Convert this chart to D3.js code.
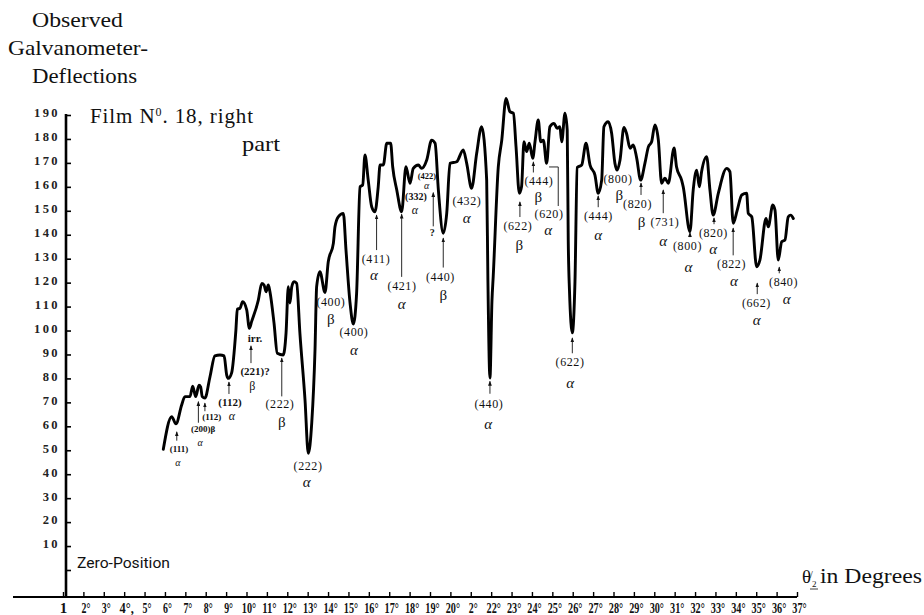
<!DOCTYPE html>
<html><head><meta charset="utf-8">
<script src="https://cdn.jsdelivr.net/npm/d3@7"></script>
<style>body{margin:0;background:#fff}svg{display:block}</style>
</head><body>
<svg id="chart" width="924" height="615"></svg>
<script>
// ---- data (θ/2 in degrees, galvanometer deflection) ----
const curveDeg = [5.92,6.33,6.54,6.82,6.98,7.23,7.36,7.51,7.67,7.75,
7.83,7.96,8.21,8.45,8.70,8.90,9.03,9.11,9.27,9.48,
9.55,9.68,9.81,10.01,10.14,10.25,10.58,10.75,10.86,10.96,
11.07,11.15,11.35,11.51,11.80,11.94,12.05,12.13,12.22,12.33,
12.46,12.62,12.87,13.03,13.20,13.36,13.44,13.60,13.85,14.01,
14.26,14.34,14.50,14.75,14.88,15.08,15.24,15.40,15.57,15.70,
15.81,15.97,16.14,16.30,16.46,16.55,16.71,16.88,17.07,17.17,
17.37,17.61,17.82,18.02,18.18,18.43,18.59,18.84,19.08,19.25,
19.41,19.65,19.82,19.98,20.31,20.63,20.80,21.04,21.29,21.53,
21.78,21.84,21.94,22.04,22.10,22.35,22.52,22.73,22.92,23.09,
23.22,23.38,23.49,23.61,23.74,23.87,24.04,24.15,24.31,24.43,
24.56,24.72,24.88,25.08,25.24,25.37,25.46,25.62,25.73,25.78,
25.84,25.98,26.11,26.22,26.44,26.65,26.85,27.09,27.25,27.42,
27.53,27.74,27.91,28.07,28.18,28.32,28.51,28.64,28.81,28.97,
29.14,29.33,29.54,29.71,29.87,30.03,30.20,30.36,30.52,30.69,
30.97,31.09,31.34,31.42,31.75,31.91,32.08,32.21,32.32,32.57,
32.73,32.89,33.14,33.55,33.71,33.87,34.07,34.29,34.53,34.61,
34.78,35.02,35.18,35.48,35.59,35.81,35.92,36.08,36.25,36.41,
36.57,36.69,36.82];
const curveVal = [50.4,64.0,61.0,68.9,72.4,72.4,76.8,72.4,77.2,76.5,
72.4,71.8,80.7,89.4,89.8,89.4,81.4,80.0,82.3,100.2,
108.9,109.3,112.0,108.6,100.9,103.7,112.7,119.7,119.0,116.2,
119.0,116.2,103.1,90.5,89.8,99.0,118.3,111.5,118.3,120.4,
119.7,98.8,71.0,48.7,61.4,91.9,118.3,124.6,115.9,128.7,
136.4,143.3,147.5,148.9,133.6,111.4,102.7,115.5,160.0,160.8,
173.3,162.8,151.7,149.6,160.0,169.1,169.1,178.2,178.2,168.4,
158.7,149.6,168.4,161.5,167.7,169.1,167.7,171.2,179.5,178.2,
158.7,140.6,148.9,169.8,170.5,175.4,169.8,159.4,174.0,185.1,
162.8,121.1,80.2,112.7,122.5,168.4,179.5,196.9,191.4,190.7,
176.7,157.3,160.0,178.8,174.7,178.2,171.9,178.8,187.9,178.8,
179.5,169.8,185.1,186.5,184.4,185.1,178.8,190.7,183.7,137.8,
116.9,99.0,120.3,168.1,169.1,178.2,169.1,164.9,157.3,162.8,
185.1,187.2,182.3,169.8,167.0,171.2,184.8,182.3,176.1,177.5,
171.9,162.8,169.8,176.7,178.8,185.8,179.5,161.5,163.6,161.5,
176.2,168.4,162.8,160.0,141.3,158.7,167.0,160.0,166.3,172.6,
158.7,148.2,157.3,167.7,166.3,144.8,150.3,156.6,157.3,148.9,
147.5,126.6,129.4,146.8,143.3,152.4,150.3,129.4,137.1,137.8,
147.5,148.2,146.8];

const yTicks = [0,10,20,30,40,50,60,70,80,90,100,110,120,130,140,150,160,170,180,190];
const xTicks = d3.range(1, 38);
const xTickLabels = ["1","2°","3°","4°,","5°","6°","7°","8°","9°","10°","11°","12°","13°","14°","15°","16°","17°","18°","19°","20°","2°","22°","23°","24°","25°","26°","27°","28°","29°","30°","31°","32°","33°","34°","35°","36°","37°"];

// annotations: label (t) at (x,y), greek letter (g) at (gx,gy), arrow at ax from a0 up to a1 (data units)
const annotations = [
 {t:"(111)", g:"α", x:6.69, y:50.6, gx:6.64, gy:45.0, ax:6.58, a0:54.0, a1:57.7, s:9},
 {t:"(200)β", g:"α", x:7.87, y:59.0, gx:7.72, gy:53.2, ax:7.64, a0:61.5, a1:70.3, s:9},
 {t:"(112)", g:"", x:8.30, y:63.8, ax:7.96, a0:66.3, a1:69.7, s:9},
 {t:"(112)", g:"α", x:9.19, y:70.3, gx:9.29, gy:64.4, ax:9.14, a0:73.5, a1:78.5, s:11},
 {t:"irr.", g:"", x:10.42, y:96.9, ax:10.22, a0:86.4, a1:93.6, s:11},
 {t:"(221)?", g:"β", x:10.42, y:83.0, gx:10.28, gy:76.8, s:11},
 {t:"(222)", g:"β", x:11.64, y:69.3, gx:11.73, gy:62.0, ax:11.73, a0:72.5, a1:88.5, s:12},
 {t:"(222)", g:"α", x:13.02, y:43.4, gx:12.95, gy:36.8, s:12},
 {t:"(400)", g:"β", x:14.14, y:111.9, gx:14.14, gy:105.0, s:12},
 {t:"(400)", g:"α", x:15.27, y:99.3, gx:15.27, gy:91.8, s:12},
 {t:"(411)", g:"α", x:16.35, y:129.8, gx:16.25, gy:123.2, ax:16.38, a0:133.6, a1:148.2, s:12},
 {t:"(421)", g:"α", x:17.63, y:118.6, gx:17.61, gy:111.3, ax:17.61, a0:122.4, a1:148.6, s:12},
 {t:"(332)", g:"α", x:18.31, y:155.9, gx:18.26, gy:150.6, s:10},
 {t:"(422)", g:"α", x:18.85, y:164.6, gx:18.84, gy:160.5, s:8.5},
 {t:"?", g:"", x:19.11, y:141.1, ax:19.16, a0:143.5, a1:157.6, s:10},
 {t:"(440)", g:"β", x:19.51, y:122.3, gx:19.65, gy:115.1, ax:19.65, a0:126.3, a1:138.6, s:12},
 {t:"(432)", g:"α", x:20.81, y:154.1, gx:20.80, gy:147.2, s:12},
 {t:"(440)", g:"α", x:21.89, y:69.3, gx:21.86, gy:61.2, ax:21.94, a0:73.6, a1:78.8, s:12},
 {t:"(622)", g:"β", x:23.31, y:143.6, gx:23.38, gy:135.9, ax:23.41, a0:147.4, a1:153.7, s:12},
 {t:"(444)", g:"β", x:24.34, y:162.4, gx:24.31, gy:155.8, ax:24.07, a0:166.0, a1:170.4, s:12},
 {t:"(620)", g:"α", x:24.84, y:148.6, gx:24.80, gy:142.0, s:12},
 {t:"(444)", g:"α", x:27.26, y:147.8, gx:27.25, gy:140.0, ax:27.25, a0:151.5, a1:156.2, s:12},
 {t:"(800)", g:"β", x:28.22, y:163.2, gx:28.28, gy:156.6, s:12},
 {t:"(820)", g:"β", x:29.18, y:152.8, gx:29.38, gy:145.4, ax:29.35, a0:156.6, a1:161.6, s:12},
 {t:"(731)", g:"α", x:30.52, y:145.3, gx:30.44, gy:137.6, ax:30.44, a0:149.0, a1:158.7, s:12},
 {t:"(800)", g:"α", x:31.63, y:135.3, gx:31.67, gy:126.8, ax:31.75, a0:139.0, a1:140.9, s:12},
 {t:"(820)", g:"α", x:32.90, y:140.7, gx:32.89, gy:134.0, ax:32.93, a0:144.4, a1:147.0, s:12},
 {t:"(822)", g:"α", x:33.79, y:127.7, gx:33.91, gy:120.8, ax:33.87, a0:131.4, a1:142.8, s:12},
 {t:"(662)", g:"α", x:35.01, y:111.5, gx:35.02, gy:104.6, ax:35.05, a0:115.2, a1:119.8, s:12},
 {t:"(840)", g:"α", x:36.34, y:120.2, gx:36.49, gy:113.4, ax:36.13, a0:123.9, a1:126.5, s:12},
 {t:"(622)", g:"α", x:25.87, y:86.8, gx:25.87, gy:78.3, ax:25.98, a0:90.5, a1:96.9, s:12}
];
// leader line from the (620) label up to its dip
const bracket620 = [[25.29,152.0],[25.29,168.3],[24.84,168.3]];

// ---- drawing ----
const svg = d3.select("#chart");
const x = d3.scaleLinear().domain([1, 37]).range([63, 797]);
const y = d3.scaleLinear().domain([0, 190]).range([570, 115]);
const axisY = 597;
const serif = "'Liberation Serif','DejaVu Serif',serif";

// arrowhead marker (points along the line direction)
svg.append("defs").append("marker")
  .attr("id","ah").attr("viewBox","0 0 8 6").attr("refX",7).attr("refY",3)
  .attr("markerWidth",5).attr("markerHeight",4).attr("orient","auto")
  .attr("markerUnits","userSpaceOnUse")
  .append("path").attr("d","M0,0 L8,3 L0,6 Z").attr("fill","#111");

// titles
const titleG = svg.append("g").attr("font-family", serif).attr("fill","#111");
titleG.append("text").attr("x",32).attr("y",27).attr("font-size",21).attr("textLength",91).attr("lengthAdjust","spacingAndGlyphs").text("Observed");
titleG.append("text").attr("x",8).attr("y",55).attr("font-size",21).attr("textLength",140).attr("lengthAdjust","spacingAndGlyphs").text("Galvanometer-");
titleG.append("text").attr("x",32).attr("y",83).attr("font-size",21).attr("textLength",105).attr("lengthAdjust","spacingAndGlyphs").text("Deflections");

const film = titleG.append("text").attr("x",90).attr("y",123).attr("font-size",21).attr("letter-spacing",0.9);
film.append("tspan").text("Film N");
film.append("tspan").attr("dy",-7).attr("font-size",12).text("0");
film.append("tspan").attr("dy",7).text(".  18,  right");
titleG.append("text").attr("x",242).attr("y",151).attr("font-size",21).attr("textLength",38).attr("lengthAdjust","spacingAndGlyphs").text("part");

// y axis
const gy = svg.append("g").attr("transform","translate(66,0)")
  .call(d3.axisLeft(y).tickValues(yTicks).tickSizeInner(-5).tickSizeOuter(0).tickPadding(6)
        .tickFormat(d => d === 0 ? "" : String(d)));
gy.select(".domain").remove();
gy.selectAll(".tick line").attr("stroke","#000").attr("stroke-width",1.6);
gy.selectAll(".tick text").attr("font-family",serif).attr("font-size",12.5).attr("font-weight","bold")
  .attr("letter-spacing",2.4).attr("fill","#222").attr("dy","0.15em");
gy.append("line").attr("x1",0).attr("x2",0).attr("y1",y(190)-1).attr("y2",axisY)
  .attr("stroke","#000").attr("stroke-width",2.6);

svg.append("text").attr("x",77).attr("y",568).attr("font-family","Roboto,'DejaVu Sans',sans-serif")
  .attr("font-size",15).attr("textLength",93).attr("lengthAdjust","spacingAndGlyphs").attr("fill","#111").text("Zero-Position");

// x axis
const gx = svg.append("g").attr("transform",`translate(0,${axisY})`)
  .call(d3.axisBottom(x).tickValues(xTicks).tickSizeInner(-5).tickSizeOuter(0).tickPadding(5)
        .tickFormat((d,i) => xTickLabels[i]));
gx.select(".domain").remove();
gx.selectAll(".tick line").attr("stroke","#000").attr("stroke-width",1.4);
gx.selectAll(".tick text").attr("font-family",serif).attr("font-size",15).attr("font-weight","bold")
  .attr("fill","#111").attr("dx", (d,i) => i === 0 ? 0 : 2)
  .attr("textLength",(d,i) => { const s = xTickLabels[i]; return s.length <= 1 ? null : (s.length - 1) * 5.4 + 3.5; })
  .attr("lengthAdjust","spacingAndGlyphs");
gx.append("line").attr("x1", 13).attr("x2", x(37)).attr("y1",0).attr("y2",0)
  .attr("stroke","#000").attr("stroke-width",2.2);

// axis caption θ/2 in Degrees
const cap = svg.append("g").attr("font-family", serif).attr("fill","#111");
cap.append("text").attr("x",802).attr("y",583).attr("font-size",19).text("θ");
cap.append("text").attr("x",810).attr("y",578).attr("font-size",10).text("/");
cap.append("text").attr("x",812).attr("y",587).attr("font-size",9).text("2");
cap.append("line").attr("x1",810).attr("x2",818).attr("y1",589).attr("y2",589).attr("stroke","#111").attr("stroke-width",0.8);
cap.append("text").attr("x",820).attr("y",583).attr("font-size",20).attr("textLength",102).attr("lengthAdjust","spacingAndGlyphs").text("in Degrees");

// curve
const pts = d3.zip(curveDeg, curveVal);
svg.append("path").datum(pts)
  .attr("d", d3.line().x(d => x(d[0])).y(d => y(d[1])).curve(d3.curveMonotoneX))
  .attr("fill","none").attr("stroke","#000").attr("stroke-width",2.9)
  .attr("stroke-linejoin","round").attr("stroke-linecap","round");

// annotations
const ag = svg.append("g").attr("font-family", serif).attr("fill","#111");
annotations.forEach(a => {
  ag.append("text").attr("x", x(a.x)).attr("y", y(a.y)).attr("dy","0.35em")
    .attr("text-anchor","middle").attr("font-size", a.s).attr("font-weight", a.s >= 12 ? "normal" : "bold")
    .attr("letter-spacing", a.s >= 12 ? 0.6 : 0).text(a.t);
  if (a.g) {
    ag.append("text").attr("x", x(a.gx)).attr("y", y(a.gy)).attr("dy","0.35em")
      .attr("text-anchor","middle").attr("font-size", a.s >= 12 ? 15 : (a.s >= 10 ? 12 : 10))
      .attr("font-style", a.g === "α" ? "italic" : "normal").text(a.g);
  }
  if (a.ax !== undefined) {
    ag.append("line").attr("x1", x(a.ax)).attr("x2", x(a.ax)).attr("y1", y(a.a0)).attr("y2", y(a.a1))
      .attr("stroke","#111").attr("stroke-width",0.9).attr("marker-end","url(#ah)");
  }
});
ag.append("path").datum(bracket620)
  .attr("d", d3.line().x(d => x(d[0])).y(d => y(d[1])))
  .attr("fill","none").attr("stroke","#111").attr("stroke-width",0.9);
</script>
</body></html>
